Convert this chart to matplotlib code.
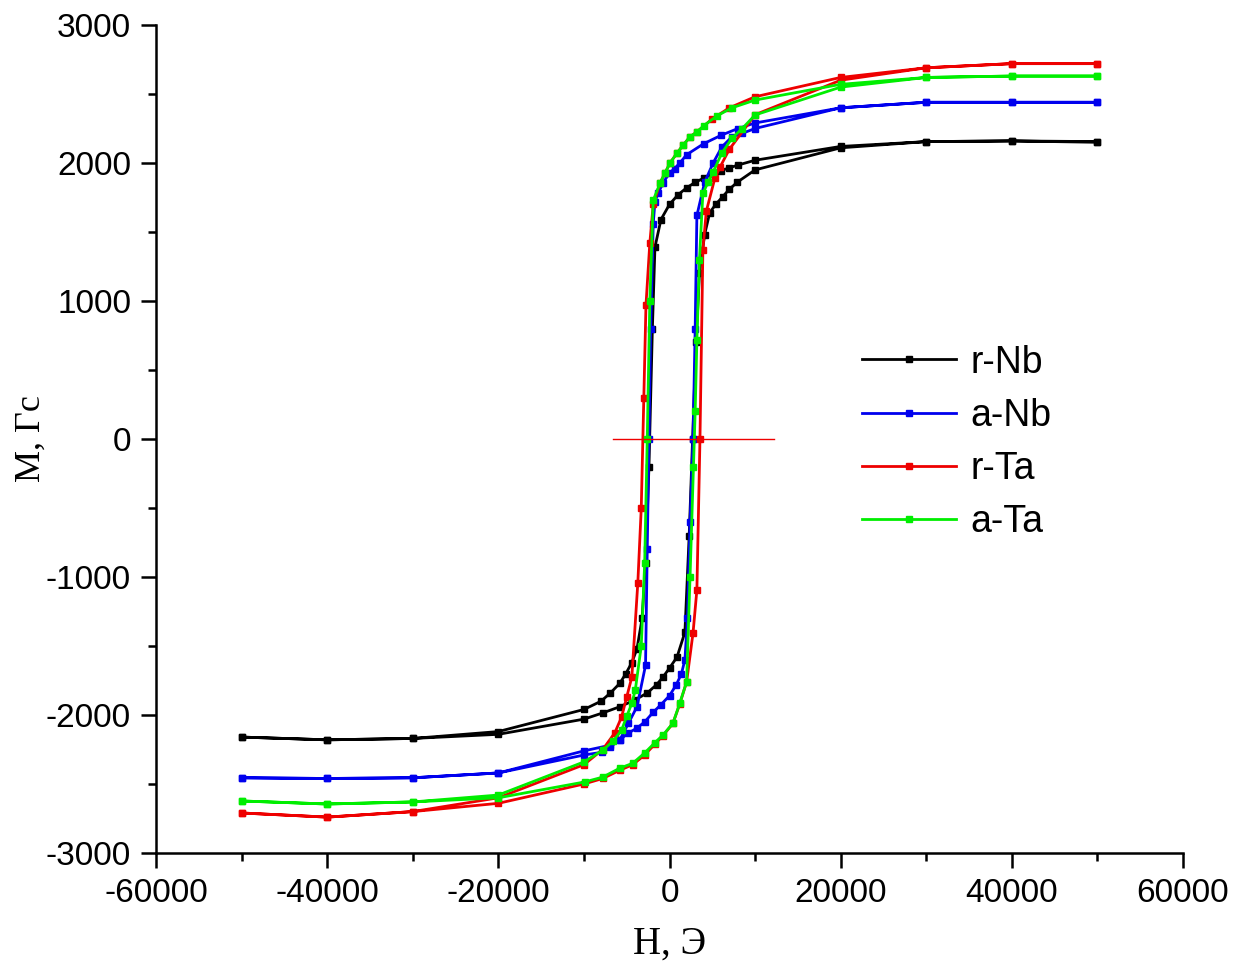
import matplotlib
matplotlib.use("Agg")
import matplotlib.pyplot as plt
from matplotlib.ticker import MultipleLocator

# ---------------- data ----------------
# r-Nb
rnb_H_desc = [50000, 40000, 30000, 20000, 10000, 8000, 7000, 6000, 5000, 4000, 3000, 2000, 1000, 0,
              -1000, -1700, -2000, -2400, -2800, -3200, -3800, -4400, -5100, -5800, -6900, -8000,
              -10000, -20000, -30000, -40000, -50000]
rnb_M_desc = [2155, 2160, 2155, 2120, 2020, 1985, 1965, 1945, 1920, 1890, 1860, 1820, 1770, 1700,
              1590, 1390, 800, -200, -900, -1300, -1520, -1620, -1700, -1770, -1840, -1900,
              -1960, -2120, -2170, -2180, -2160]
rnb_H_asc = [-50000, -40000, -30000, -20000, -10000, -7800, -5800, -4000, -2600, -1500, -760, 0,
             880, 1800, 2300, 2700, 3100, 3500, 4100, 4700, 5400, 6200, 7000, 7900, 10000,
             20000, 30000, 40000, 50000]
rnb_M_asc = [-2160, -2180, -2170, -2140, -2030, -1985, -1940, -1890, -1840, -1780, -1725, -1660,
             -1580, -1400, -700, 0, 700, 1200, 1480, 1640, 1700, 1755, 1810, 1860, 1950,
             2110, 2155, 2160, 2150]

# a-Nb
anb_H_desc = [50000, 40000, 30000, 20000, 10000, 8000, 6000, 4000, 2000, 1200, 600, 0, -760, -1340,
              -1700, -1900, -2200, -2400, -2600, -2800, -3800, -4800, -5800, -6900, -7900, -10000,
              -20000, -30000, -40000, -50000]
anb_M_desc = [2440, 2440, 2440, 2400, 2290, 2250, 2200, 2140, 2060, 2000, 1960, 1928, 1855, 1780,
              1720, 1560, 800, 0, -800, -1640, -1940, -2060, -2180, -2230, -2270, -2290,
              -2420, -2455, -2460, -2455]
anb_H_asc = [-50000, -40000, -30000, -20000, -10000, -7000, -5800, -4800, -3800, -2900, -1900, -1000,
             0, 800, 1400, 1800, 2100, 2400, 2750, 3000, 3200, 4100, 5100, 6100, 7300, 8500, 10000,
             20000, 30000, 40000, 50000]
anb_M_asc = [-2455, -2460, -2455, -2420, -2260, -2220, -2180, -2130, -2095, -2050, -1980, -1925,
             -1860, -1780, -1700, -1600, -1300, -600, 0, 800, 1620, 1860, 2000, 2115, 2190, 2215, 2250,
             2400, 2440, 2440, 2440]

# r-Ta
rta_H_desc = [50000, 40000, 30000, 20000, 10000, 7000, 5000, 3200, 2400, 1600, 880, 60, -520, -1100,
              -1900, -2300, -2750, -3000, -3300, -3700, -4400, -5000, -5600, -6400, -7800, -10000,
              -20000, -30000, -40000, -50000]
rta_M_desc = [2720, 2720, 2690, 2620, 2480, 2400, 2320, 2225, 2190, 2130, 2072, 2000, 1928, 1855,
              1700, 1420, 970, 300, -500, -1040, -1725, -1870, -2015, -2130, -2250, -2360,
              -2600, -2700, -2740, -2710]
rta_H_asc = [-50000, -40000, -30000, -20000, -10000, -7800, -5800, -4300, -2900, -1700, -760, 400,
             1200, 2000, 2750, 3200, 3560, 3900, 4300, 5300, 5900, 7000, 10000, 20000, 30000,
             40000, 50000]
rta_M_asc = [-2710, -2740, -2700, -2640, -2500, -2460, -2400, -2360, -2290, -2210, -2150, -2060,
             -1920, -1760, -1405, -1094, 0, 1370, 1650, 1890, 1970, 2100, 2350, 2600, 2690,
             2720, 2720]

# a-Ta
ata_H_desc = [50000, 40000, 30000, 20000, 10000, 7300, 5500, 4000, 3200, 2400, 1600, 880, 60, -520,
              -1100, -1900, -2300, -2600, -2900, -3300, -4000, -4400, -5000, -5600, -6600, -7800,
              -10000, -20000, -30000, -40000, -50000]
ata_M_desc = [2630, 2630, 2620, 2570, 2456, 2400, 2340, 2270, 2225, 2190, 2130, 2072, 2000, 1928,
              1855, 1730, 1000, 0, -900, -1500, -1820, -1915, -2010, -2110, -2190, -2255,
              -2340, -2580, -2630, -2645, -2623]
ata_H_asc = [-50000, -40000, -30000, -20000, -9900, -7800, -5800, -4300, -2900, -1700, -760, 400,
             1200, 2000, 2400, 2800, 3000, 3200, 3500, 3900, 4500, 5100, 6100, 7300, 8500, 10000,
             20000, 30000, 40000, 50000]
ata_M_asc = [-2623, -2645, -2630, -2600, -2485, -2450, -2385, -2350, -2275, -2200, -2145, -2060,
             -1915, -1760, -1000, -200, 200, 717, 1300, 1780, 1860, 1935, 2070, 2180, 2250, 2348,
             2550, 2620, 2630, 2630]

series_labels = ["r-Nb", "a-Nb", "r-Ta", "a-Ta"]
series_colors = ["#000000", "#0000ee", "#ee0000", "#00ee00"]

# thin red reference segment at M = 0
ref_H = [-6600, 12200]
ref_M = [0, 0]

# ---------------- plot ----------------
plt.rcParams['font.family'] = ['Liberation Sans', 'DejaVu Sans']
plt.rcParams['axes.unicode_minus'] = False

fig = plt.figure(figsize=(12.49, 9.66), dpi=100)
ax = fig.add_axes([156/1249, 1 - 853/966, 1027/1249, 828/966])

all_data = [
    (rnb_H_desc + rnb_H_asc, rnb_M_desc + rnb_M_asc),
    (anb_H_desc + anb_H_asc, anb_M_desc + anb_M_asc),
    (rta_H_desc + rta_H_asc, rta_M_desc + rta_M_asc),
    (ata_H_desc + ata_H_asc, ata_M_desc + ata_M_asc),
]
for (H, M), lab, col in zip(all_data, series_labels, series_colors):
    ax.plot(H, M, color=col, lw=2.0, marker='s', ms=5.0, mec=col, mfc=col, label=lab)

ax.plot(ref_H, ref_M, color="#ee0000", lw=1.0)

ax.set_xlim(-60000, 60000)
ax.set_ylim(-3000, 3000)
ax.xaxis.set_major_locator(MultipleLocator(20000))
ax.xaxis.set_minor_locator(MultipleLocator(10000))
ax.yaxis.set_major_locator(MultipleLocator(1000))
ax.yaxis.set_minor_locator(MultipleLocator(500))

for s in ['top', 'right']:
    ax.spines[s].set_visible(False)
for s in ['left', 'bottom']:
    ax.spines[s].set_linewidth(1.8)

ax.tick_params(which='major', direction='out', length=11, width=1.8, labelsize=24, pad=7)
ax.tick_params(which='minor', direction='out', length=6, width=1.8)

ax.set_xlabel("H, Э", family=['Liberation Serif', 'DejaVu Serif'], fontsize=28)
ax.set_ylabel("M, Гс", family=['Liberation Serif', 'DejaVu Serif'], fontsize=26)
ax.xaxis.set_label_coords(0.5, -0.088)
ax.yaxis.set_label_coords(-0.105, 0.5)

leg = ax.legend(loc='upper left', bbox_to_anchor=(0.6875, 0.614), frameon=False,
                fontsize=27, handlelength=2.5, handletextpad=0.4, labelspacing=0.46,
                borderpad=0, borderaxespad=0, markerscale=0.8)

fig.savefig("out.png", dpi=100)
